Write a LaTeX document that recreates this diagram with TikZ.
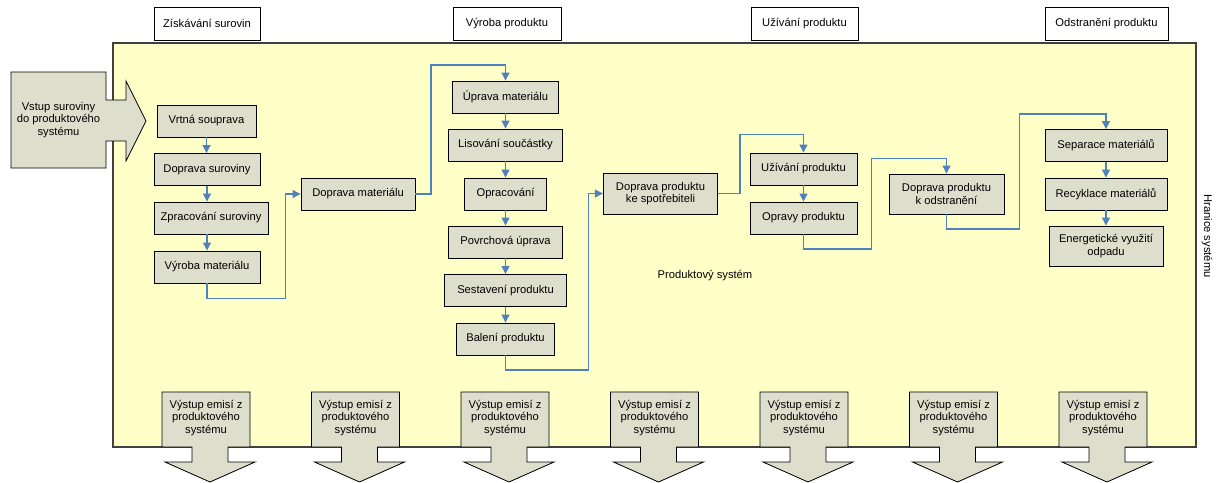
\documentclass[tikz,border=0pt]{standalone}
\usepackage{fontspec}
\setmainfont{Liberation Sans}
\usetikzlibrary{arrows.meta,calc}
\definecolor{sysfill}{RGB}{255,255,200}
\definecolor{boxfill}{RGB}{221,223,204}
\definecolor{flow}{RGB}{79,129,189}
\definecolor{edge}{RGB}{64,64,64}

\tikzset{
  txt/.style={font=\fontsize{11.2}{12.6}\selectfont, align=center, inner sep=0pt},
  pbox/.style={txt, rectangle, draw=black, line width=0.9pt, fill=boxfill},
  hbox/.style={txt, rectangle, draw=black, line width=0.8pt, fill=white, minimum height=33pt},
  flowline/.style={draw=flow, line width=1.1pt, -{Triangle[length=8pt,width=8pt]}},
  bigarrow/.style={draw=black, line width=0.8pt, fill=boxfill, line join=miter},
}

\begin{document}
\begin{tikzpicture}[x=1pt,y=-1pt]
\useasboundingbox (0,0) rectangle (1217,482);
\fill[white] (0,0) rectangle (1217,482);

% system boundary
\draw[fill=sysfill, draw=edge, line width=1.3pt] (113,43) rectangle (1196,447);
\node[txt] (psys) at (705,276) {Produktový systém};
\node[txt, rotate=-90] (hran) at (1207,236) {Hranice systému};

% life-cycle phase headers
\node[hbox, minimum width=106pt] (h1) at (207,23.5) {Získávání surovin};
\node[hbox, minimum width=108pt] (h2) at (507,23.5) {Výroba produktu};
\node[hbox, minimum width=107pt] (h3) at (804.5,23.5) {Užívání produktu};
\node[hbox, minimum width=123pt] (h4) at (1106.5,23.5) {Odstranění produktu};

% raw material acquisition
\node[pbox, minimum width=99pt,  minimum height=32pt] (vrt) at (206.5,121) {Vrtná souprava};
\node[pbox, minimum width=106pt, minimum height=32pt] (dsu) at (207,169.5) {Doprava suroviny};
\node[pbox, minimum width=114pt, minimum height=32pt] (zsu) at (211,218) {Zpracování suroviny};
\node[pbox, minimum width=106pt, minimum height=32pt] (vma) at (207,267) {Výroba materiálu};
\node[pbox, minimum width=114pt, minimum height=32pt] (dma) at (358,194) {Doprava materiálu};

% production
\node[pbox, minimum width=106pt, minimum height=32pt] (upr) at (505.5,97) {Úprava materiálu};
\node[pbox, minimum width=114pt, minimum height=32pt] (lis) at (505.5,145) {Lisování součástky};
\node[pbox, minimum width=82pt,  minimum height=32pt] (opr) at (505.5,194) {Opracování};
\node[pbox, minimum width=114pt, minimum height=32pt] (pov) at (505.5,242) {Povrchová úprava};
\node[pbox, minimum width=122pt, minimum height=32pt] (ses) at (505.5,290.5) {Sestavení produktu};
\node[pbox, minimum width=98pt,  minimum height=32pt] (bal) at (505.5,339) {Balení produktu};
\node[pbox, minimum width=114.5pt, minimum height=41pt] (dps) at (660.5,193.5) {Doprava produktu\\ke spotřebiteli};

% use
\node[pbox, minimum width=107pt, minimum height=32pt] (uzi) at (803.5,169) {Užívání produktu};
\node[pbox, minimum width=107pt, minimum height=32pt] (opv) at (803.5,218) {Opravy produktu};
\node[pbox, minimum width=115pt, minimum height=40pt] (dpo) at (946.5,194) {Doprava produktu\\k odstranění};

% disposal
\node[pbox, minimum width=122pt, minimum height=32pt] (sep) at (1106,145.5) {Separace materiálů};
\node[pbox, minimum width=122pt, minimum height=32pt] (rec) at (1106,194) {Recyklace materiálů};
\node[pbox, minimum width=114pt, minimum height=40pt] (ene) at (1106,246) {Energetické využití\\odpadu};

% routing points of the connectors
\coordinate (r1) at (285.7,298.3);
\coordinate (r2) at (431,65);
\coordinate (r3) at (588.3,370);
\coordinate (r4) at (740,134.3);
\coordinate (r5a) at (871.7,249);
\coordinate (r5b) at (871.7,158.3);
\coordinate (r6a) at (1019.3,229);
\coordinate (r6b) at (1019.3,114);

% flow connectors
\draw[flowline] (vrt.south) -- (vrt.south |- dsu.north);
\draw[flowline] (dsu.south) -- (dsu.south |- zsu.north);
\draw[flowline] (dsu.south |- zsu.south) -- (vma.north);
\draw[flowline] (vma.south) |- (r1) |- (dma.west);
\draw[flowline] (dma.east) -| (r2) -| (upr.north);
\draw[flowline] (upr.south) -- (lis.north);
\draw[flowline] (lis.south) -- (opr.north);
\draw[flowline] (opr.south) -- (pov.north);
\draw[flowline] (pov.south) -- (ses.north);
\draw[flowline] (ses.south) -- (bal.north);
\draw[flowline] (bal.south) |- (r3) |- (dps.west);
\draw[flowline] (dps.east) -| (r4) -| (uzi.north);
\draw[flowline] (uzi.south) -- (opv.north);
\draw[flowline] (opv.south) |- (r5a) -- (r5b) -| (dpo.north);
\draw[flowline] (dpo.south) |- (r6a) -- (r6b) -| (sep.north);
\draw[flowline] (sep.south) -- (rec.north);
\draw[flowline] (rec.south) -- (ene.north);

% input arrow
\draw[bigarrow] (11,72) -- (106,72) -- (106,100) -- (126,100) -- (126,81) -- (146,121)
  -- (126,161) -- (126,141) -- (106,141) -- (106,168) -- (11,168) -- cycle;
\node[txt] (vstup) at (58.5,120) {Vstup suroviny\\do produktového\\systému};

% emission output arrows
\foreach \i in {0,...,6} {
  \pgfmathsetmacro\c{206+149.5*\i}
  \draw[bigarrow] (\c-44,392) -- (\c+44,392) -- (\c+44,447) -- (\c+22,447) -- (\c+22,462)
    -- (\c+49,462) -- (\c+4,482) -- (\c-41,462) -- (\c-14,462) -- (\c-14,447)
    -- (\c-44,447) -- cycle;
  \node[txt] (vystup\i) at (\c,418) {Výstup emisí z\\produktového\\systému};
}
\end{tikzpicture}
\end{document}
